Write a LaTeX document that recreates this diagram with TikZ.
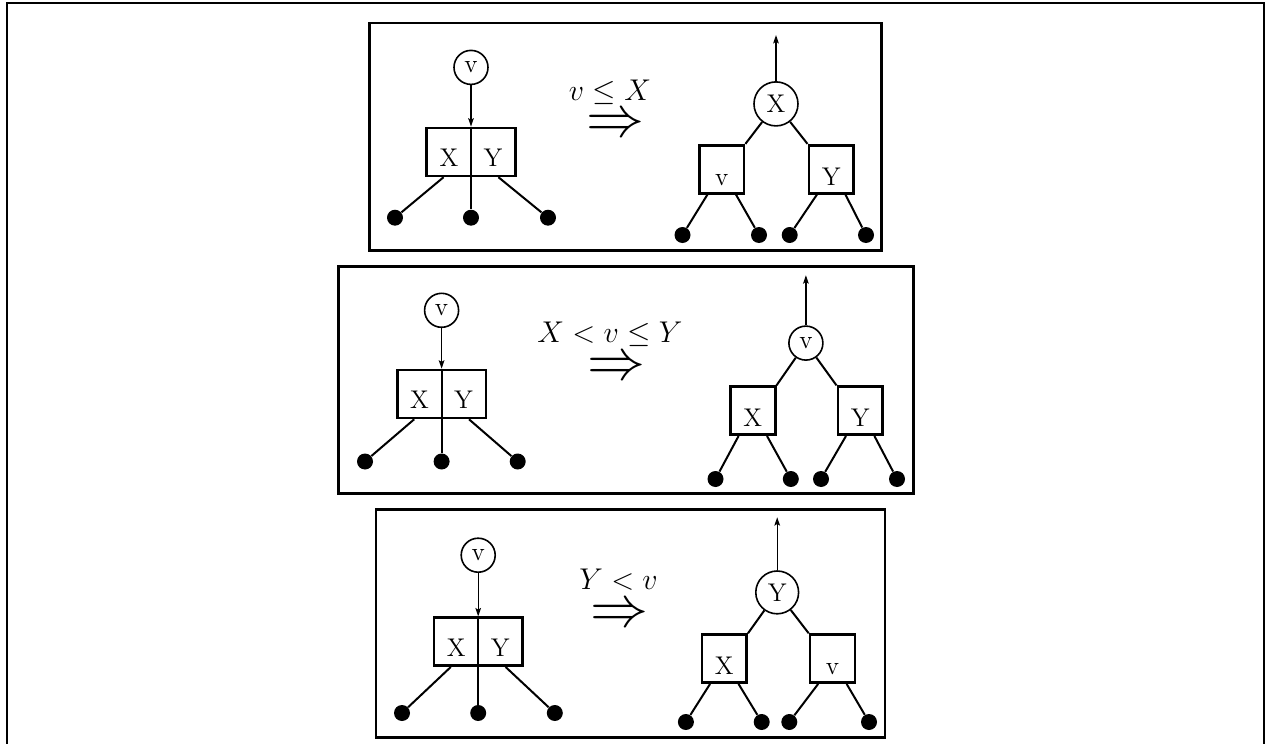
\RequirePackage{fix-cm}
\documentclass[tikz,border=0pt]{standalone}
\usetikzlibrary{arrows.meta,calc}

\begin{document}
\begin{tikzpicture}[x=0.5pt,y=-0.5pt,
  frame/.style={line width=1.3pt},
  vnode/.style={circle,draw,line width=0.8pt,inner sep=0pt,minimum size=17pt,font=\fontsize{12.8}{14}\selectfont},
  pairbox/.style={rectangle,draw,line width=1.3pt,inner sep=0pt,minimum width=44.4pt,minimum height=24pt,text height=19.4pt,text depth=4.6pt,font=\fontsize{12.8}{14}\selectfont},
  kidbox/.style={rectangle,draw,line width=1.3pt,inner sep=0pt,minimum width=22.4pt,minimum height=24pt,text height=20pt,text depth=4pt,font=\fontsize{12.8}{14}\selectfont},
  leaf/.style={circle,fill,inner sep=0pt,minimum size=8pt},
  edge/.style={line width=1pt},
  arr/.style={-{Stealth[length=4.2pt,width=2.8pt,inset=0.8pt]},line width=0.7pt},
  rel/.style={anchor=base,inner sep=0pt,font=\fontsize{15}{18}\selectfont},
  imp/.style={inner sep=0pt,font=\fontsize{29}{30}\selectfont}]
\useasboundingbox (0,0) rectangle (1266,744);
\draw[frame] (7,750) -- (7,3) -- (1264,3) -- (1264,750);

\draw[frame] (369.7,22.8) rectangle (881.7,250.3);
\node[vnode] (p1v) at (471,67.4) {v};
\node[pairbox] (p1b) at (471,151.9) {X\hspace{12.6pt}Y};
\node[leaf] (p1d1) at (395,217.7) {};
\node[leaf] (p1d2) at (471,217.7) {};
\node[leaf] (p1d3) at (548,217.7) {};
\draw[arr] (p1v) -- (p1b.north);
\draw[edge] (p1b.north) -- (p1d2);
\draw[edge] ($(p1b.south west)!0.2!(p1b.south east)$) -- (p1d1);
\draw[edge] ($(p1b.south west)!0.8!(p1b.south east)$) -- (p1d3);
\node[rel] (p1rel) at (610,100) {$v\leq X$};
\node[imp] (p1imp) at (615,125.7) {$\Rightarrow$};
\node[vnode,minimum size=22pt] (p1r) at (776,103.9) {X};
\coordinate (p1out) at (776,35);
\draw[arr] (p1r) -- (p1out);
\node[kidbox] (p1cl) at (721.7,169.2) {v};
\node[kidbox] (p1cr) at (831.2,169.2) {Y};
\draw[edge] (p1r) -- (p1cl.north east);
\draw[edge] (p1r) -- (p1cr.north west);
\node[leaf] (p1e1) at (682.5,235) {};
\node[leaf] (p1e2) at (759,235) {};
\node[leaf] (p1e3) at (789.7,235) {};
\node[leaf] (p1e4) at (866,235) {};
\draw[edge] ($(p1cl.south west)!0.2!(p1cl.south east)$) -- (p1e1);
\draw[edge] ($(p1cl.south west)!0.8!(p1cl.south east)$) -- (p1e2);
\draw[edge] ($(p1cr.south west)!0.2!(p1cr.south east)$) -- (p1e3);
\draw[edge] ($(p1cr.south west)!0.8!(p1cr.south east)$) -- (p1e4);

\draw[frame] (338.7,266.2) rectangle (913.7,493.5);
\node[vnode] (p2v) at (441.6,310.3) {v};
\node[pairbox] (p2b) at (441.6,394) {X\hspace{12.6pt}Y};
\node[leaf] (p2d1) at (365,461.5) {};
\node[leaf] (p2d2) at (441.6,461.5) {};
\node[leaf] (p2d3) at (517.7,461.5) {};
\draw[arr] (p2v) -- (p2b.north);
\draw[edge] (p2b.north) -- (p2d2);
\draw[edge] ($(p2b.south west)!0.2!(p2b.south east)$) -- (p2d1);
\draw[edge] ($(p2b.south west)!0.8!(p2b.south east)$) -- (p2d3);
\node[rel] (p2rel) at (610,342) {$X<v\leq Y$};
\node[imp] (p2imp) at (616,368.4) {$\Rightarrow$};
\node[vnode] (p2r) at (805.9,343.1) {v};
\coordinate (p2out) at (805.9,275.2);
\draw[arr] (p2r) -- (p2out);
\node[kidbox] (p2cl) at (752.8,410.7) {X};
\node[kidbox] (p2cr) at (860.2,410.7) {Y};
\draw[edge] (p2r) -- (p2cl.north east);
\draw[edge] (p2r) -- (p2cr.north west);
\node[leaf] (p2e1) at (715.5,479) {};
\node[leaf] (p2e2) at (790.8,479) {};
\node[leaf] (p2e3) at (821,479) {};
\node[leaf] (p2e4) at (897,479) {};
\draw[edge] ($(p2cl.south west)!0.2!(p2cl.south east)$) -- (p2e1);
\draw[edge] ($(p2cl.south west)!0.8!(p2cl.south east)$) -- (p2e2);
\draw[edge] ($(p2cr.south west)!0.2!(p2cr.south east)$) -- (p2e3);
\draw[edge] ($(p2cr.south west)!0.8!(p2cr.south east)$) -- (p2e4);

\draw[frame] (376,509.5) rectangle (885,737.7);
\node[vnode] (p3v) at (478.2,555.2) {v};
\node[pairbox] (p3b) at (478.2,641.7) {X\hspace{12.6pt}Y};
\node[leaf] (p3d1) at (402,713) {};
\node[leaf] (p3d2) at (478.2,713) {};
\node[leaf] (p3d3) at (554.8,713) {};
\draw[arr] (p3v) -- (p3b.north);
\draw[edge] (p3b.north) -- (p3d2);
\draw[edge] ($(p3b.south west)!0.2!(p3b.south east)$) -- (p3d1);
\draw[edge] ($(p3b.south west)!0.8!(p3b.south east)$) -- (p3d3);
\node[rel] (p3rel) at (618.6,589) {$Y<v$};
\node[imp] (p3imp) at (619.7,616.2) {$\Rightarrow$};
\node[vnode,minimum size=21.4pt] (p3r) at (777.2,592.4) {Y};
\coordinate (p3out) at (777.2,517.2);
\draw[arr] (p3r) -- (p3out);
\node[kidbox] (p3cl) at (724.3,658.6) {X};
\node[kidbox] (p3cr) at (832.4,658.6) {v};
\draw[edge] (p3r) -- (p3cl.north east);
\draw[edge] (p3r) -- (p3cr.north west);
\node[leaf] (p3e1) at (685.9,722) {};
\node[leaf] (p3e2) at (761.7,722) {};
\node[leaf] (p3e3) at (789.3,722) {};
\node[leaf] (p3e4) at (869,722) {};
\draw[edge] ($(p3cl.south west)!0.2!(p3cl.south east)$) -- (p3e1);
\draw[edge] ($(p3cl.south west)!0.8!(p3cl.south east)$) -- (p3e2);
\draw[edge] ($(p3cr.south west)!0.2!(p3cr.south east)$) -- (p3e3);
\draw[edge] ($(p3cr.south west)!0.8!(p3cr.south east)$) -- (p3e4);
\end{tikzpicture}
\end{document}
